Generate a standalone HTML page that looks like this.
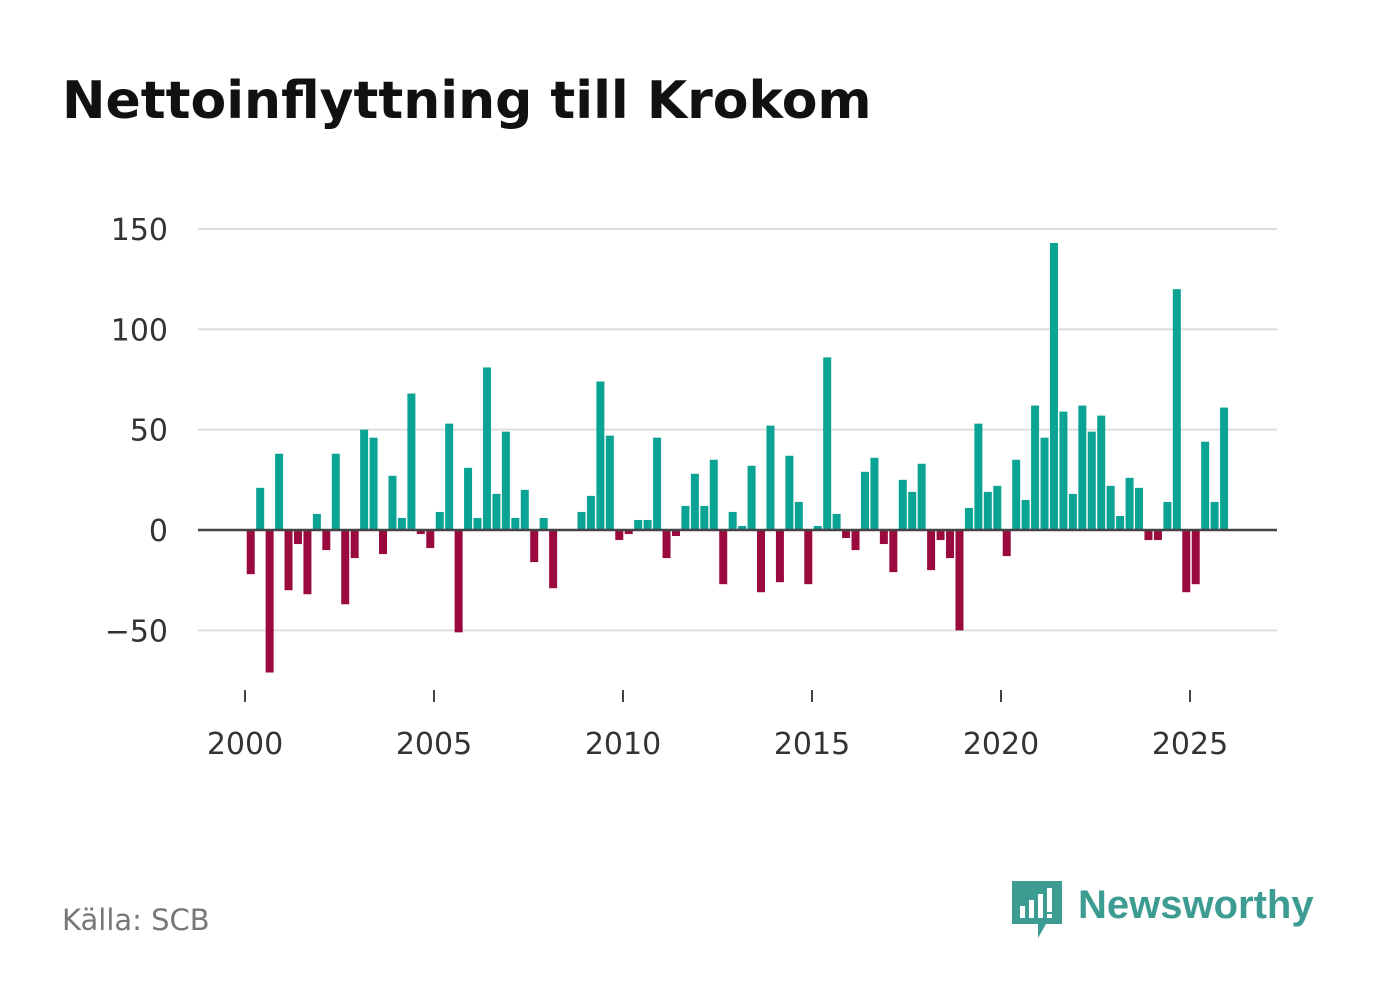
<!DOCTYPE html>
<html><head><meta charset="utf-8"><style>
body{margin:0;background:#fff;width:1382px;height:999px;overflow:hidden;font-family:"DejaVu Sans","Liberation Sans",sans-serif}
</style></head><body>
<svg width="1382" height="999" xmlns="http://www.w3.org/2000/svg">
<text x="62" y="118" font-size="52" font-weight="bold" fill="#111">Nettoinflyttning till Krokom</text>
<g id="grid"></g><g id="bars"></g><g id="axes"></g>
<text x="62" y="930" font-size="29" fill="#777">Källa: SCB</text>
<g>
<path d="M1012 881 h50 v43 h-16 l-8 14 v-14 h-26 z" fill="#3d9c91"/>
<rect x="1020" y="906" width="5" height="12" fill="#fff"/><rect x="1029" y="900" width="5" height="18" fill="#fff"/><rect x="1038" y="894" width="5" height="24" fill="#fff"/><rect x="1047" y="888" width="5" height="24" fill="#fff"/><rect x="1047" y="914" width="5" height="4" fill="#fff"/>
<text x="1078" y="918" font-size="40" font-weight="bold" fill="#3d9c91" font-family="Liberation Sans, sans-serif">Newsworthy</text>
</g>
</svg>
<script>
const yTicks=[-50,0,50,100,150];
const xTicks=[2000,2005,2010,2015,2020,2025];
const values=[-22,21,-71,38,-30,-7,-32,8,-10,38,-37,-14,50,46,-12,27,6,68,-2,-9,9,53,-51,31,6,81,18,49,6,20,-16,6,-29,0,0,9,17,74,47,-5,-2,5,5,46,-14,-3,12,28,12,35,-27,9,2,32,-31,52,-26,37,14,-27,2,86,8,-4,-10,29,36,-7,-21,25,19,33,-20,-5,-14,-50,11,53,19,22,-13,35,15,62,46,143,59,18,62,49,57,22,7,26,21,-5,-5,14,120,-31,-27,44,14,61];
const startYear=2000;
const NS="http://www.w3.org/2000/svg";
const y=v=>530-v*2.007;
const x=yr=>245+(yr-2000)*37.8;
function mk(t,a,p){const e=document.createElementNS(NS,t);for(const k in a)e.setAttribute(k,a[k]);p.appendChild(e);return e;}
const grid=document.getElementById('grid'),bars=document.getElementById('bars'),axes=document.getElementById('axes');
yTicks.forEach(v=>{
 const l=mk('line',{x1:198,x2:1277,y1:y(v),y2:y(v),stroke:v===0?'#444':'#ddd','stroke-width':v===0?2.5:2},v===0?axes:grid);
 
 
 const t=mk('text',{x:168,y:y(v)+11,'font-size':30,fill:'#333','text-anchor':'end'},axes);
 t.textContent=v<0?'\u2212'+Math.abs(v):v;
 
 
});
xTicks.forEach(v=>{
 const l=mk('line',{x1:x(v),x2:x(v),y1:690,y2:702,stroke:'#444','stroke-width':2},axes);
 
 
 const t=mk('text',{x:x(v),y:754,'font-size':30,fill:'#333','text-anchor':'middle'},axes);
 t.textContent=v;
 
 
});
values.forEach((v,i)=>{
 const c=x(startYear+0.125+i*0.25)+1;
 const r=mk('rect',{x:c-4,width:8,y:Math.min(y(v),y(0)),height:Math.abs(y(v)-y(0)),fill:v>=0?'#0aa394':'#9b0a3f'},bars);
 
 
});
</script>
</body></html>
